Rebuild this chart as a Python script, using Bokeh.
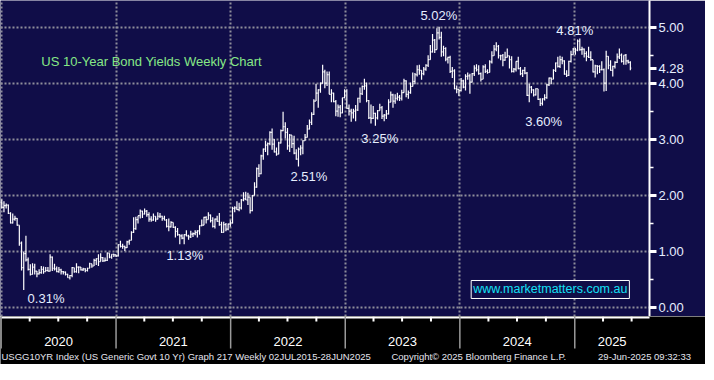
import numpy as np
import pandas as pd
from bokeh.plotting import figure
from bokeh.layouts import column
from bokeh.core.properties import value
from bokeh.models import (Range1d, FixedTicker, Label, PrintfTickFormatter, ColumnDataSource,
                          LinearAxis, Grid)
from bokeh.embed import file_html
from bokeh.resources import INLINE

# ---------------- data (weekly bars, week ending Friday) ----------------
first_week = "2019-12-27"
first_open = 1.92

close_2019 = [1.88]
high_2019 = [1.94]
low_2019 = [1.87]

close_2020 = [1.79, 1.82, 1.83, 1.68, 1.51, 1.58, 1.59, 1.47, 1.15, 0.71, 0.96, 0.85, 0.68,
              0.59, 0.72, 0.65, 0.60, 0.62, 0.68, 0.64, 0.66, 0.65, 0.90, 0.70, 0.69, 0.64,
              0.67, 0.64, 0.63, 0.59, 0.53, 0.57, 0.71, 0.64, 0.72, 0.72, 0.67, 0.69, 0.66,
              0.70, 0.78, 0.74, 0.84, 0.87, 0.82, 0.89, 0.83, 0.84, 0.97, 0.90, 0.95, 0.94]
high_2020 = [1.93, 1.90, 1.86, 1.84, 1.70, 1.68, 1.64, 1.60, 1.47, 1.18, 1.00, 1.28, 0.89,
             0.77, 0.79, 0.78, 0.64, 0.68, 0.74, 0.73, 0.72, 0.72, 0.95, 0.91, 0.78, 0.73,
             0.72, 0.69, 0.65, 0.64, 0.60, 0.58, 0.72, 0.71, 0.79, 0.73, 0.72, 0.71, 0.70,
             0.71, 0.80, 0.78, 0.87, 0.88, 0.95, 0.97, 0.90, 0.89, 0.98, 0.97, 0.95, 0.96]
low_2020 = [1.77, 1.70, 1.77, 1.67, 1.50, 1.50, 1.55, 1.46, 1.10, 0.66, 0.31, 0.82, 0.66,
            0.57, 0.59, 0.59, 0.54, 0.59, 0.60, 0.60, 0.64, 0.64, 0.64, 0.65, 0.66, 0.63,
            0.62, 0.59, 0.59, 0.57, 0.53, 0.50, 0.54, 0.62, 0.62, 0.61, 0.66, 0.65, 0.63,
            0.64, 0.70, 0.71, 0.75, 0.76, 0.74, 0.82, 0.81, 0.82, 0.83, 0.88, 0.87, 0.90]

close_2021 = [0.92, 1.12, 1.09, 1.09, 1.07, 1.17, 1.20, 1.34, 1.41, 1.57, 1.64, 1.72, 1.67,
              1.72, 1.66, 1.58, 1.56, 1.63, 1.58, 1.63, 1.63, 1.59, 1.56, 1.45, 1.44, 1.52,
              1.43, 1.36, 1.30, 1.28, 1.24, 1.30, 1.28, 1.26, 1.31, 1.32, 1.34, 1.37, 1.46,
              1.47, 1.61, 1.57, 1.65, 1.55, 1.45, 1.58, 1.54, 1.48, 1.34, 1.48, 1.40, 1.49, 1.51]
high_2021 = [0.94, 1.13, 1.19, 1.14, 1.10, 1.19, 1.21, 1.36, 1.61, 1.62, 1.64, 1.75, 1.73,
             1.77, 1.74, 1.70, 1.63, 1.68, 1.63, 1.70, 1.69, 1.64, 1.64, 1.58, 1.59, 1.54,
             1.52, 1.45, 1.42, 1.31, 1.31, 1.31, 1.38, 1.30, 1.37, 1.34, 1.38, 1.38, 1.47,
             1.57, 1.62, 1.63, 1.70, 1.66, 1.61, 1.59, 1.64, 1.69, 1.53, 1.53, 1.51, 1.50, 1.56]
low_2021 = [0.90, 0.91, 1.07, 1.05, 1.01, 1.06, 1.12, 1.20, 1.33, 1.39, 1.50, 1.59, 1.60,
            1.66, 1.62, 1.53, 1.53, 1.55, 1.53, 1.57, 1.60, 1.55, 1.56, 1.43, 1.36, 1.43,
            1.42, 1.25, 1.28, 1.13, 1.22, 1.13, 1.27, 1.21, 1.24, 1.26, 1.29, 1.25, 1.30,
            1.45, 1.47, 1.50, 1.57, 1.52, 1.43, 1.41, 1.53, 1.46, 1.33, 1.34, 1.36, 1.38, 1.44]

close_2022 = [1.77, 1.78, 1.75, 1.78, 1.92, 1.94, 1.92, 1.97, 1.73, 2.00, 2.15, 2.48,
              2.39, 2.71, 2.83, 2.90, 2.93, 3.13, 2.92, 2.78, 2.74, 2.94, 3.16, 3.23, 3.13,
              2.89, 3.08, 2.93, 2.76, 2.65, 2.83, 2.85, 2.98, 3.04, 3.19, 3.31, 3.45, 3.69,
              3.83, 3.89, 4.01, 4.21, 4.01, 4.16, 3.81, 3.83, 3.68, 3.51, 3.58, 3.48, 3.75, 3.87]
high_2022 = [1.80, 1.81, 1.90, 1.87, 1.94, 2.06, 2.07, 2.05, 1.97, 2.01, 2.24, 2.50,
             2.56, 2.73, 2.84, 2.98, 2.95, 3.15, 3.20, 3.01, 2.86, 2.96, 3.18, 3.50, 3.31,
             3.21, 3.10, 3.08, 3.07, 2.83, 2.86, 2.90, 2.99, 3.10, 3.26, 3.36, 3.49, 3.72,
             4.00, 3.90, 4.02, 4.34, 4.25, 4.22, 4.22, 3.90, 3.84, 3.71, 3.63, 3.62, 3.75, 3.90]
low_2022 = [1.50, 1.70, 1.74, 1.72, 1.75, 1.90, 1.92, 1.83, 1.68, 1.72, 2.00, 2.14,
            2.33, 2.38, 2.64, 2.78, 2.72, 2.90, 2.82, 2.77, 2.71, 2.74, 2.93, 3.15, 3.02,
            2.82, 2.78, 2.85, 2.74, 2.64, 2.52, 2.72, 2.74, 2.98, 3.07, 3.18, 3.26, 3.44,
            3.69, 3.57, 3.84, 4.00, 3.92, 3.96, 3.81, 3.67, 3.67, 3.42, 3.41, 3.40, 3.47, 3.74]

close_2023 = [3.56, 3.51, 3.48, 3.51, 3.53, 3.74, 3.82, 3.95, 3.96, 3.70, 3.39, 3.38, 3.47,
              3.39, 3.52, 3.57, 3.42, 3.44, 3.46, 3.67, 3.80, 3.69, 3.74, 3.76, 3.74, 3.84,
              4.05, 3.81, 3.84, 3.95, 4.04, 4.16, 4.25, 4.24, 4.18, 4.26, 4.33, 4.43, 4.57,
              4.78, 4.61, 4.91, 4.83, 4.57, 4.63, 4.44, 4.47, 4.22, 4.23, 3.91, 3.90, 3.88]
high_2023 = [3.90, 3.63, 3.55, 3.55, 3.62, 3.75, 3.93, 3.97, 4.09, 4.02, 3.71, 3.63, 3.60,
             3.48, 3.53, 3.64, 3.60, 3.46, 3.53, 3.72, 3.86, 3.82, 3.81, 3.84, 3.80, 3.89,
             4.09, 4.06, 3.88, 4.02, 4.20, 4.19, 4.33, 4.34, 4.24, 4.30, 4.35, 4.51, 4.69,
             4.89, 4.80, 4.99, 5.02, 4.93, 4.68, 4.65, 4.48, 4.50, 4.30, 4.26, 3.97, 3.90]
low_2023 = [3.55, 3.43, 3.32, 3.38, 3.33, 3.51, 3.66, 3.80, 3.89, 3.67, 3.37, 3.29, 3.37,
            3.25, 3.36, 3.52, 3.37, 3.33, 3.37, 3.45, 3.67, 3.57, 3.64, 3.70, 3.69, 3.70,
            3.84, 3.76, 3.73, 3.82, 3.95, 3.99, 4.13, 4.16, 4.07, 4.15, 4.23, 4.30, 4.52,
            4.56, 4.55, 4.61, 4.79, 4.48, 4.49, 4.40, 4.36, 4.19, 4.10, 3.90, 3.83, 3.78]

close_2024 = [4.05, 3.94, 4.13, 4.14, 4.03, 4.18, 4.28, 4.25, 4.18, 4.08, 4.30, 4.22, 4.20,
              4.39, 4.50, 4.62, 4.67, 4.50, 4.50, 4.42, 4.47, 4.50, 4.43, 4.22, 4.26, 4.40,
              4.27, 4.18, 4.24, 4.19, 3.79, 3.94, 3.89, 3.80, 3.91, 3.72, 3.65, 3.73, 3.75,
              3.98, 4.10, 4.08, 4.24, 4.37, 4.31, 4.43, 4.41, 4.17, 4.15, 4.40, 4.52, 4.62]
high_2024 = [4.10, 4.07, 4.17, 4.20, 4.18, 4.19, 4.33, 4.35, 4.33, 4.20, 4.33, 4.35, 4.26,
             4.42, 4.58, 4.69, 4.74, 4.69, 4.52, 4.53, 4.57, 4.63, 4.48, 4.49, 4.28, 4.40,
             4.48, 4.30, 4.25, 4.30, 4.21, 4.00, 3.96, 3.90, 3.92, 3.91, 3.74, 3.74, 3.81,
             4.00, 4.11, 4.11, 4.26, 4.38, 4.48, 4.50, 4.48, 4.42, 4.24, 4.41, 4.59, 4.64]
low_2024 = [3.86, 3.92, 3.88, 4.07, 3.82, 4.02, 4.14, 4.22, 4.16, 4.04, 4.08, 4.19, 4.18,
            4.28, 4.36, 4.51, 4.58, 4.45, 4.42, 4.31, 4.41, 4.49, 4.27, 4.20, 4.20, 4.22,
            4.26, 4.15, 4.12, 4.17, 3.78, 3.67, 3.83, 3.77, 3.79, 3.71, 3.60, 3.61, 3.70,
            3.73, 3.96, 3.99, 4.08, 4.21, 4.29, 4.28, 4.35, 4.16, 4.12, 4.14, 4.38, 4.52]

close_2025 = [4.60, 4.76, 4.61, 4.62, 4.54, 4.49, 4.47, 4.43, 4.21, 4.32, 4.31, 4.25, 4.25,
              4.01, 4.49, 4.33, 4.24, 4.31, 4.38, 4.48, 4.51, 4.40, 4.51, 4.41, 4.38, 4.28]
high_2025 = [4.64, 4.79, 4.81, 4.66, 4.63, 4.58, 4.66, 4.58, 4.43, 4.34, 4.33, 4.33, 4.40,
             4.27, 4.59, 4.49, 4.42, 4.32, 4.40, 4.54, 4.63, 4.54, 4.51, 4.53, 4.43, 4.40]
low_2025 = [4.52, 4.58, 4.59, 4.52, 4.47, 4.40, 4.46, 4.41, 4.20, 4.11, 4.17, 4.19, 4.24,
            3.86, 3.87, 4.26, 4.23, 4.13, 4.27, 4.37, 4.44, 4.38, 4.34, 4.34, 4.36, 4.24]

y_ticks = [0, 1, 2, 3, 4, 5]
y_minor_ticks = [0.5, 1.5, 2.5, 3.5, 4.5]
years = [2020, 2021, 2022, 2023, 2024, 2025]
year_labels = ["2020", "2021", "2022", "2023", "2024", "2025"]

annotations = ["0.31%", "1.13%", "2.51%", "3.25%", "5.02%", "3.60%", "4.81%"]
chart_title = "US 10-Year Bond Yields Weekly Chart"
website = "www.marketmatters.com.au"
footer_texts = ["USGG10YR Index (US Generic Govt 10 Yr) Graph 217  Weekly 02JUL2015-28JUN2025",
                "Copyright\u00a9 2025 Bloomberg Finance L.P.",
                "29-Jun-2025 09:32:33"]

# ---------------- assemble ----------------
close = np.array(close_2019 + close_2020 + close_2021 + close_2022 + close_2023 + close_2024 + close_2025)
high = np.array(high_2019 + high_2020 + high_2021 + high_2022 + high_2023 + high_2024 + high_2025)
low = np.array(low_2019 + low_2020 + low_2021 + low_2022 + low_2023 + low_2024 + low_2025)
opn = np.concatenate([[first_open], close[:-1]])
high = np.maximum.reduce([high, opn, close])
low = np.minimum.reduce([low, opn, close])
dates = pd.date_range(first_week, periods=len(close), freq="7D")
tick = pd.Timedelta(days=3)
src = ColumnDataSource(dict(x=dates, x0=dates - tick, x1=dates + tick, o=opn, h=high, l=low, c=close))

NAVY = "#100d48"
FONT = "Liberation Sans"
LBL = "#e6eeff"
W = 705
RIGHT = 56
FRAME_W = W - RIGHT
H_MAIN = 316
H_BOTTOM = 48
x_start = pd.Timestamp("2019-12-30")
x_end = pd.Timestamp("2025-08-27")
y_start, y_end = -0.163, 5.488

p = figure(width=W, height=H_MAIN, x_axis_type=None, y_axis_type=None,
           x_range=Range1d(x_start, x_end), y_range=Range1d(y_start, y_end),
           output_backend="svg", toolbar_location=None,
           min_border_left=0, min_border_top=0, min_border_right=RIGHT, min_border_bottom=0,
           background_fill_color=NAVY, border_fill_color=NAVY, outline_line_color=None)
p.frame_align = False

year_starts = [pd.Timestamp(f"{y}-01-01") for y in years]
quarters = [pd.Timestamp(f"{y}-{m:02d}-01") for y in years for m in (4, 7, 10)]
quarters = [q for q in quarters if q < x_end]

grid_x = FixedTicker(ticks=[t.value / 1e6 for t in year_starts])
grid_y = FixedTicker(ticks=y_ticks)
axis_y = FixedTicker(ticks=y_ticks + [float(close[-1])], minor_ticks=y_minor_ticks)

yaxis = LinearAxis(ticker=axis_y, formatter=PrintfTickFormatter(format="%.2f"),
                   axis_line_color="white", axis_line_width=2,
                   major_tick_line_color="white", major_tick_line_width=3,
                   major_tick_in=0, major_tick_out=7,
                   minor_tick_line_color="white", minor_tick_line_width=1.5,
                   minor_tick_in=0, minor_tick_out=4,
                   major_label_text_color=LBL, major_label_text_font=FONT,
                   major_label_text_font_size="13px", major_label_standoff=2)
p.add_layout(yaxis, "right")

for dim, tk in ((0, grid_x), (1, grid_y)):
    p.add_layout(Grid(dimension=dim, ticker=tk, grid_line_color="#8e8e9a", grid_line_width=2,
                      grid_line_dash="2 2"))

# OHLC bars
p.segment("x", "h", "x", "l", source=src, line_color="white", line_width=1.2)
p.segment("x0", "o", "x", "o", source=src, line_color="white", line_width=1.2)
p.segment("x", "c", "x1", "c", source=src, line_color="white", line_width=1.2)

def lab(text, x, y, color=LBL, size="13px", align="center", **kw):
    p.add_layout(Label(x=x, y=y, text=text, text_color=color, text_font=FONT,
                       text_font_size=size, text_align=align, text_baseline="middle", **kw))

ann_pos = [("2020-05-23", 0.16), ("2021-08-08", 0.92), ("2022-09-07", 2.34),
           ("2023-04-21", 3.02), ("2023-10-26", 5.22), ("2024-09-24", 3.33), ("2025-01-01", 4.96)]
for t, (d, v) in zip(annotations, ann_pos):
    lab(t, pd.Timestamp(d), v)

lab(chart_title, pd.Timestamp("2020-05-08"), 4.39, color="#86e886", size="13px", align="left")
lab(website, pd.Timestamp("2024-10-15"), 0.32, color="#14e0f5", size="12.5px",
    border_line_color="white", border_line_width=1, background_fill_color=NAVY, padding=2)

# ---------------- bottom strip: time axis + footer ----------------
per_px = (x_end - x_start) / FRAME_W
sx = FRAME_W / 669.0
b = figure(width=W, height=H_BOTTOM, x_axis_type=None, y_axis_type=None,
           x_range=Range1d(x_start, x_start + per_px * W), y_range=Range1d(0, H_BOTTOM),
           output_backend="svg", toolbar_location=None, min_border=0,
           background_fill_color="black", border_fill_color="black", outline_line_color=None)
b.frame_align = False

top = H_BOTTOM
b.segment(x0=[x_start], y0=[top - 1], x1=[x_end], y1=[top - 1], line_color="white", line_width=2)
b.segment(x0=year_starts, y0=[top] * len(year_starts), x1=year_starts, y1=[top - 32] * len(year_starts),
          line_color="#9a9a9a", line_width=1.5)
b.segment(x0=quarters, y0=[top] * len(quarters), x1=quarters, y1=[top - 5] * len(quarters),
          line_color="white", line_width=2)

centers = []
for y in years:
    a0 = max(pd.Timestamp(f"{y}-01-01"), x_start)
    a1 = min(pd.Timestamp(f"{y + 1}-01-01"), x_end)
    centers.append(a0 + (a1 - a0) / 2)
b.text(x=centers, y=[top - 25] * len(centers), text=year_labels, text_color="white",
       text_font=value(FONT), text_font_size="13px", text_align="center", text_baseline="middle")

footer_ref_px = [1, 403, 616]
b.text(x=[x_start + per_px * (v * sx) for v in footer_ref_px], y=[8] * 3, text=footer_texts,
       text_color="#e4e4ee", text_font=value(FONT), text_font_size="9.5px",
       text_align="left", text_baseline="middle")

layout = column(p, b, spacing=0)
open("out.html", "w").write(file_html(layout, INLINE))
